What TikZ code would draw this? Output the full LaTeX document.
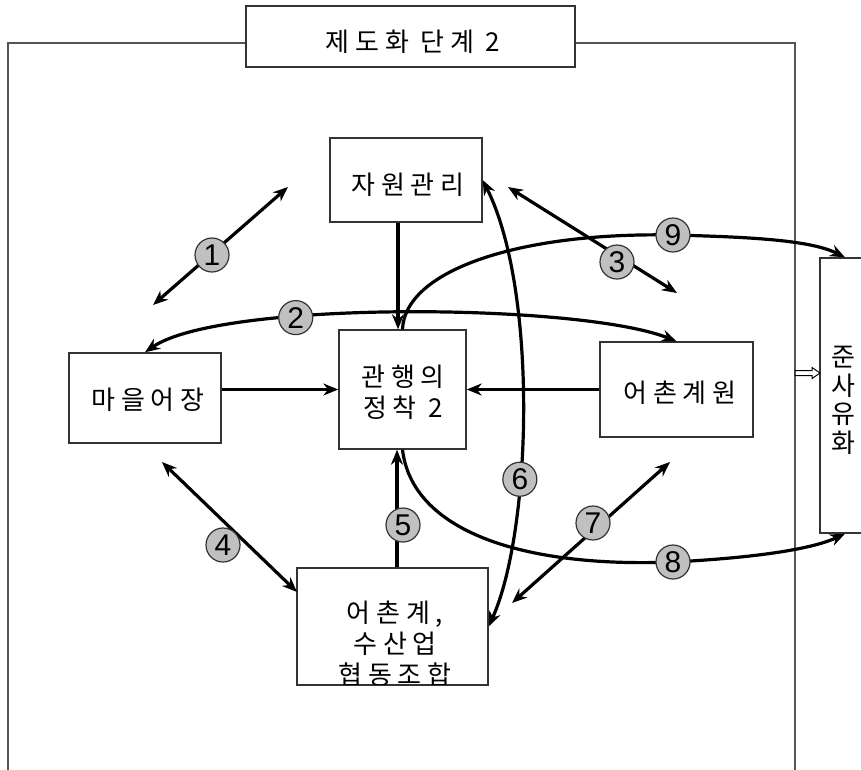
\documentclass[tikz,border=0pt]{standalone}
\usepackage{fontspec}
\newfontfamily\krfont[LetterSpace=22]{Noto Sans CJK KR}
\newfontfamily\numfont{Liberation Sans}
\usetikzlibrary{arrows.meta}
\definecolor{boxline}{HTML}{333333}
\definecolor{framegray}{HTML}{555555}
\definecolor{numfill}{HTML}{C0C0C0}
\tikzset{
  box/.style={draw=boxline, line width=1.4pt, fill=white, inner sep=0pt},
  lbl/.style={inner sep=0pt, font=\krfont\fontsize{26}{31}\selectfont, align=center},
  conn/.style={line width=3.2pt, -{Stealth[length=15pt,width=12pt]}},
  dconn/.style={line width=3.2pt, {Stealth[length=15pt,width=12pt]}-{Stealth[length=15pt,width=12pt]}},
  num/.style={circle, draw=boxline, line width=1.2pt, fill=numfill, minimum size=34pt, inner sep=0pt, font=\numfont\fontsize{30}{30}\selectfont},
  frameline/.style={draw=framegray, line width=1.8pt},
}
\begin{document}
\begin{tikzpicture}[x=1pt,y=-1pt]
\useasboundingbox (0,0) rectangle (861,769);
\clip (0,0) rectangle (861,769);
\fill[white] (0,0) rectangle (861,769);

% frame
\draw[frameline] (8,775) -- (8,43) -- (795,43) -- (795,775);

% title
\node[box, line width=1.8pt, minimum width=329pt, minimum height=61pt] (title) at (410.5,36.5) {};
\node[lbl] at (413,42) {제도화 단계 2};

% boxes
\node[box, minimum width=152pt, minimum height=84pt] (jawon) at (406,180) {};
\node[lbl] at (408,185) {자원관리};
\node[box, minimum width=127pt, minimum height=119pt] (gwan) at (402.5,389.5) {};
\node[lbl] at (403,392.5) {관행의\\정착 2};
\node[box, minimum width=152pt, minimum height=90pt] (maeul) at (145,398) {};
\node[lbl] at (148,400) {마을어장};
\node[box, minimum width=153pt, minimum height=95pt] (eochon) at (676.5,389.5) {};
\node[lbl] at (680,393) {어촌계원};
\node[box, minimum width=191pt, minimum height=117pt] (hyeop) at (392.5,626.5) {};
\begin{scope}
  \clip (hyeop.south west) rectangle (hyeop.north east);
  \node[lbl] at (395,644) {어촌계,\\수산업\\협동조합};
\end{scope}
\draw[boxline, line width=1.4pt] (hyeop.south west) -- (hyeop.south east);
\node[box, minimum width=50pt, minimum height=275pt] (jun) at (845,395.5) {};
\node[lbl, font=\krfont\fontsize{26}{28.5}\selectfont] at (843,400.5) {준\\사\\유\\화};

% coordinates
\coordinate (x98) at (398,0);
\coordinate (x97) at (397,0);
\coordinate (a1s) at (153,305);
\coordinate (a1e) at (288,187);
\coordinate (a3s) at (508,187);
\coordinate (a3e) at (677,293);
\coordinate (a4s) at (162,462);
\coordinate (a4e) at (297,592);
\coordinate (a7s) at (512,603);
\coordinate (a7e) at (670,462);
\coordinate (l8) at (673,562);
\coordinate (l9) at (673,235);
\coordinate (ha) at (795,373);

% straight connectors
\draw[conn] (jawon.south -| x98) -- (gwan.north -| x98);
\draw[conn] (maeul.east |- gwan.west) -- (gwan.west);
\draw[conn] (eochon.west) -- (gwan.east);
\draw[conn] (hyeop.north -| x97) -- (gwan.south -| x97);
\draw[dconn] (a1s) -- (a1e);
\draw[dconn] (a3s) -- (a3e);
\draw[dconn] (a4s) -- (a4e);
\draw[dconn] (a7s) -- (a7e);

% curved connectors
\draw[dconn] (maeul.north) .. controls (220,300) and (580,303) .. (eochon.north) node[num,pos=0.335] {2};
\draw[dconn] (jawon.east) .. controls (538,290) and (532,530) .. (hyeop.east) node[num,pos=0.64] {6};
\draw[conn] (gwan.south) .. controls (412,530) and (520,568) .. (l8) .. controls (750,558) and (810,550) .. (jun.south);
\draw[conn] (gwan.north) .. controls (405,270) and (520,232) .. (l9) .. controls (750,237) and (810,240) .. (jun.north);

% number labels
\node[num] (n1) at (212,255) {1};
\node[num] (n3) at (617,262) {3};
\node[num] (n4) at (223,545) {4};
\node[num] (n5) at (403,525) {5};
\node[num] (n7) at (593,523) {7};
\node[num] (n8) at (l8) {8};
\node[num] (n9) at (l9) {9};

% hollow arrow
\draw[black, line width=1pt, fill=white] (ha) ++(0,-2.5) -- ++(17,0) -- ++(0,-3) -- ++(8,5.5) -- ++(-8,5.5) -- ++(0,-3) -- ++(-17,0) -- cycle;
\end{tikzpicture}
\end{document}
